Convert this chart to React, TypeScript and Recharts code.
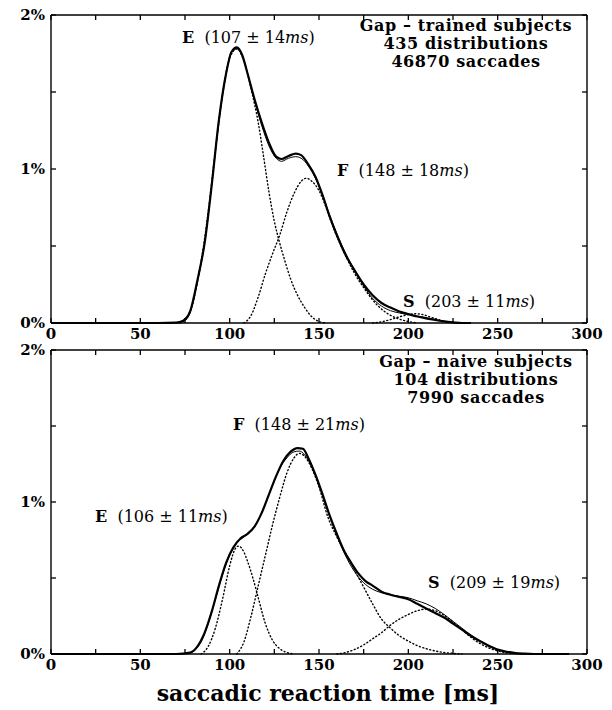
import React from 'react';
import { LineChart, Line, XAxis, YAxis } from 'recharts';

// [ms, %] pairs
const trainedTotal = [
  [0, 0], [60, 0], [70, 0.002], [74, 0.015], [78, 0.08], [82, 0.28], [86, 0.52], [90, 0.9], [94, 1.32],
  [98, 1.62], [101, 1.76], [104, 1.79], [107, 1.74], [110, 1.62], [114, 1.45], [118, 1.3], [122, 1.17],
  [126, 1.08], [129, 1.065], [133, 1.085], [137, 1.1], [140, 1.09], [144, 1.03], [148, 0.95], [152, 0.83],
  [156, 0.69], [160, 0.57], [165, 0.44], [170, 0.34], [175, 0.25], [180, 0.18], [185, 0.13], [190, 0.1],
  [195, 0.075], [200, 0.058], [205, 0.042], [210, 0.03], [215, 0.02], [220, 0.01], [225, 0.004], [230, 0], [235, 0],
];
const trainedFit = [
  [70, 0], [74, 0.01], [78, 0.07], [82, 0.27], [86, 0.52], [90, 0.9], [94, 1.31], [98, 1.62], [101, 1.76],
  [104, 1.78], [107, 1.74], [110, 1.62], [114, 1.44], [118, 1.28], [122, 1.15], [126, 1.07], [129, 1.05],
  [133, 1.07], [137, 1.08], [140, 1.07], [144, 1.02], [148, 0.94], [152, 0.83], [156, 0.7], [160, 0.58],
  [165, 0.45], [170, 0.34], [175, 0.24], [180, 0.16], [185, 0.11], [190, 0.08], [195, 0.065], [200, 0.055],
  [205, 0.045], [210, 0.035], [215, 0.02], [220, 0.01], [225, 0.003], [230, 0],
];
const trainedE = [
  [72, 0], [76, 0.03], [80, 0.16], [84, 0.4], [88, 0.72], [92, 1.12], [96, 1.48], [100, 1.72], [104, 1.78],
  [108, 1.7], [112, 1.52], [116, 1.3], [119, 1.08], [122, 0.85], [125, 0.66], [128, 0.52], [131, 0.4],
  [134, 0.29], [138, 0.18], [142, 0.1], [146, 0.04], [150, 0.01], [154, 0],
];
const trainedF = [
  [108, 0], [112, 0.05], [116, 0.17], [120, 0.32], [124, 0.45], [128, 0.57], [132, 0.72], [136, 0.84],
  [140, 0.92], [143, 0.94], [146, 0.92], [150, 0.86], [154, 0.75], [158, 0.62], [162, 0.51], [166, 0.41],
  [170, 0.32], [175, 0.23], [180, 0.15], [185, 0.09], [190, 0.05], [195, 0.025], [200, 0.01], [205, 0],
];
const trainedS = [
  [180, 0], [185, 0.008], [190, 0.022], [195, 0.04], [200, 0.055], [204, 0.06], [208, 0.055], [212, 0.04],
  [216, 0.025], [220, 0.012], [225, 0.003], [230, 0],
];

const naiveTotal = [
  [0, 0], [70, 0], [78, 0.01], [82, 0.05], [86, 0.14], [90, 0.28], [94, 0.45], [98, 0.6], [102, 0.7],
  [106, 0.76], [110, 0.79], [114, 0.84], [118, 0.93], [122, 1.05], [126, 1.17], [130, 1.27], [134, 1.33],
  [138, 1.355], [141, 1.35], [144, 1.29], [148, 1.18], [152, 1.05], [156, 0.91], [160, 0.79], [164, 0.68],
  [168, 0.6], [172, 0.53], [176, 0.48], [180, 0.45], [185, 0.41], [190, 0.39], [195, 0.375], [200, 0.36],
  [205, 0.33], [210, 0.3], [215, 0.27], [220, 0.24], [225, 0.2], [230, 0.16], [235, 0.12], [240, 0.085],
  [245, 0.055], [250, 0.03], [255, 0.015], [260, 0.006], [265, 0.002], [270, 0], [290, 0],
];
const naiveFit = [
  [76, 0], [80, 0.02], [84, 0.08], [88, 0.2], [92, 0.36], [96, 0.52], [100, 0.65], [104, 0.73], [108, 0.77],
  [112, 0.81], [116, 0.88], [120, 0.99], [124, 1.11], [128, 1.22], [132, 1.29], [136, 1.33], [139, 1.335],
  [142, 1.31], [146, 1.23], [150, 1.11], [154, 0.97], [158, 0.84], [162, 0.72], [166, 0.62], [170, 0.54],
  [174, 0.48], [178, 0.44], [182, 0.415], [186, 0.4], [190, 0.39], [195, 0.38], [200, 0.37], [205, 0.35],
  [210, 0.33], [215, 0.3], [220, 0.26], [225, 0.215], [230, 0.17], [235, 0.125], [240, 0.085], [245, 0.05],
  [250, 0.028], [255, 0.012], [260, 0.004], [265, 0],
];
const naiveE = [
  [84, 0], [88, 0.05], [92, 0.17], [96, 0.36], [100, 0.58], [103, 0.69], [105, 0.71], [108, 0.67],
  [110, 0.61], [113, 0.5], [116, 0.37], [120, 0.2], [124, 0.09], [128, 0.035], [132, 0.01], [136, 0],
];
const naiveF = [
  [104, 0], [108, 0.08], [112, 0.25], [116, 0.45], [120, 0.65], [124, 0.85], [128, 1.03], [132, 1.19],
  [136, 1.29], [139, 1.32], [142, 1.3], [146, 1.22], [150, 1.1], [155, 0.9], [160, 0.77], [165, 0.66],
  [170, 0.55], [175, 0.44], [180, 0.33], [185, 0.23], [190, 0.17], [195, 0.12], [200, 0.085], [205, 0.055],
  [210, 0.035], [215, 0.02], [220, 0.01], [225, 0.004], [230, 0],
];
const naiveS = [
  [160, 0], [165, 0.01], [170, 0.03], [175, 0.06], [180, 0.1], [185, 0.14], [190, 0.19], [195, 0.23],
  [200, 0.26], [205, 0.285], [210, 0.295], [215, 0.285], [220, 0.255], [225, 0.21], [230, 0.16],
  [235, 0.11], [240, 0.07], [245, 0.04], [250, 0.02], [255, 0.008], [260, 0.002], [265, 0],
];

const xTicks = [0, 25, 50, 75, 100, 125, 150, 175, 200, 225, 250, 275, 300];
const yTicks = [0, 0.5, 1, 1.5, 2];
const yLabels: Record<number, string> = { 0: '0%', 1: '1%', 2: '2%' };

const toPoints = (pairs: number[][]) => pairs.map(([ms, p]) => ({ ms, p }));

const serif = 'DejaVu Serif';
const tickFont = { fontFamily: serif, fontWeight: 'bold', fontSize: 15 } as const;

const BottomTick = (props: any) => {
  const { x, y, payload } = props;
  const v = payload.value;
  return (
    <g>
      <line x1={x} y1={y} x2={x} y2={y - 5} stroke="#000" strokeWidth={1.3} />
      {v % 50 === 0 && (
        <text x={x} y={y + 16} textAnchor="middle" fill="#000" {...tickFont}>{v}</text>
      )}
    </g>
  );
};

const TopTick = (props: any) => {
  const { x, y } = props;
  return <line x1={x} y1={y} x2={x} y2={y + 5} stroke="#000" strokeWidth={1.3} />;
};

const LeftTick = (props: any) => {
  const { x, y, payload } = props;
  const label = yLabels[payload.value];
  return (
    <g>
      <line x1={x} y1={y} x2={x + 5} y2={y} stroke="#000" strokeWidth={1.3} />
      {label && (
        <text x={x - 6} y={y + 5} textAnchor="end" fill="#000" {...tickFont}>{label}</text>
      )}
    </g>
  );
};

const RightTick = (props: any) => {
  const { x, y } = props;
  return <line x1={x} y1={y} x2={x - 5} y2={y} stroke="#000" strokeWidth={1.3} />;
};

const dotted = { stroke: '#000', strokeWidth: 1.4, strokeDasharray: '1 2.6', strokeLinecap: 'round' as const };
const frame = { stroke: '#000', strokeWidth: 1.4 };

const Panel = ({ total, fit, e, f, s, height, margin }: any) => (
  <LineChart width={612} height={height} margin={margin}>
    <XAxis xAxisId="b" dataKey="ms" type="number" domain={[0, 300]} ticks={xTicks} height={1}
      tickSize={0} tickMargin={0} tick={<BottomTick />} axisLine={frame} interval={0} />
    <XAxis xAxisId="t" orientation="top" dataKey="ms" type="number" domain={[0, 300]} ticks={xTicks} height={1}
      tickSize={0} tickMargin={0} tick={<TopTick />} axisLine={frame} interval={0} />
    <YAxis yAxisId="l" type="number" domain={[0, 2]} ticks={yTicks} width={1} tickSize={0} tickMargin={0}
      tick={<LeftTick />} axisLine={frame} interval={0} />
    <YAxis yAxisId="r" orientation="right" type="number" domain={[0, 2]} ticks={yTicks} width={1} tickSize={0}
      tickMargin={0} tick={<RightTick />} axisLine={frame} interval={0} />
    <Line xAxisId="b" yAxisId="l" data={toPoints(e)} dataKey="p" type="monotone" dot={false} {...dotted} isAnimationActive={false} />
    <Line xAxisId="b" yAxisId="l" data={toPoints(f)} dataKey="p" type="monotone" dot={false} {...dotted} isAnimationActive={false} />
    <Line xAxisId="t" yAxisId="r" data={toPoints(s)} dataKey="p" type="monotone" dot={false} {...dotted} isAnimationActive={false} />
    <Line xAxisId="b" yAxisId="l" data={toPoints(fit)} dataKey="p" type="monotone" dot={false} stroke="#000" strokeWidth={1} isAnimationActive={false} />
    <Line xAxisId="b" yAxisId="l" data={toPoints(total)} dataKey="p" type="monotone" dot={false} stroke="#000" strokeWidth={2.2} isAnimationActive={false} />
  </LineChart>
);

const Note = ({ x, y, tag, mean, sd }: { x: number; y: number; tag: string; mean: number; sd: number }) => (
  <text x={x} y={y} fontFamily={serif} fontSize={16} fill="#000" xmlSpace="preserve">
    <tspan fontWeight="bold">{tag}</tspan>
    {'  ('}{mean} ± {sd}<tspan fontStyle="italic">ms</tspan>{')'}
  </text>
);

const Title = ({ x, y, lines }: { x: number; y: number; lines: string[] }) => (
  <text x={x} y={y} textAnchor="middle" fill="#000" fontFamily={serif} fontWeight="bold" fontSize={16} letterSpacing={0.6}>
    {lines.map((l, i) => (
      <tspan key={i} x={x} dy={i === 0 ? 0 : 18}>{l}</tspan>
    ))}
  </text>
);

export default function App() {
  return (
    <div style={{ position: 'absolute', left: 0, top: 0, width: 612, height: 710, background: '#fff' }}>
      <div style={{ position: 'absolute', left: 0, top: 0 }}>
        <Panel total={trainedTotal} fit={trainedFit} e={trainedE} f={trainedF} s={trainedS}
          height={348} margin={{ top: 14, right: 24, bottom: 24, left: 50 }} />
      </div>
      <div style={{ position: 'absolute', left: 0, top: 340 }}>
        <Panel total={naiveTotal} fit={naiveFit} e={naiveE} f={naiveF} s={naiveS}
          height={370} margin={{ top: 9, right: 24, bottom: 55, left: 50 }} />
      </div>
      <svg width={612} height={710} style={{ position: 'absolute', left: 0, top: 0, pointerEvents: 'none' }}>
        <Title x={466} y={31} lines={['Gap – trained subjects', '435 distributions', '46870 saccades']} />
        <Title x={476} y={367} lines={['Gap – naive subjects', '104 distributions', '7990 saccades']} />
        <Note x={182} y={43} tag="E" mean={107} sd={14} />
        <Note x={337} y={176} tag="F" mean={148} sd={18} />
        <Note x={403} y={307} tag="S" mean={203} sd={11} />
        <Note x={95} y={522} tag="E" mean={106} sd={11} />
        <Note x={233} y={430} tag="F" mean={148} sd={21} />
        <Note x={428} y={588} tag="S" mean={209} sd={19} />
        <text x={328} y={701} textAnchor="middle" fontFamily={serif} fontWeight="bold" fontSize={22} fill="#000">
          saccadic reaction time [ms]
        </text>
      </svg>
    </div>
  );
}
